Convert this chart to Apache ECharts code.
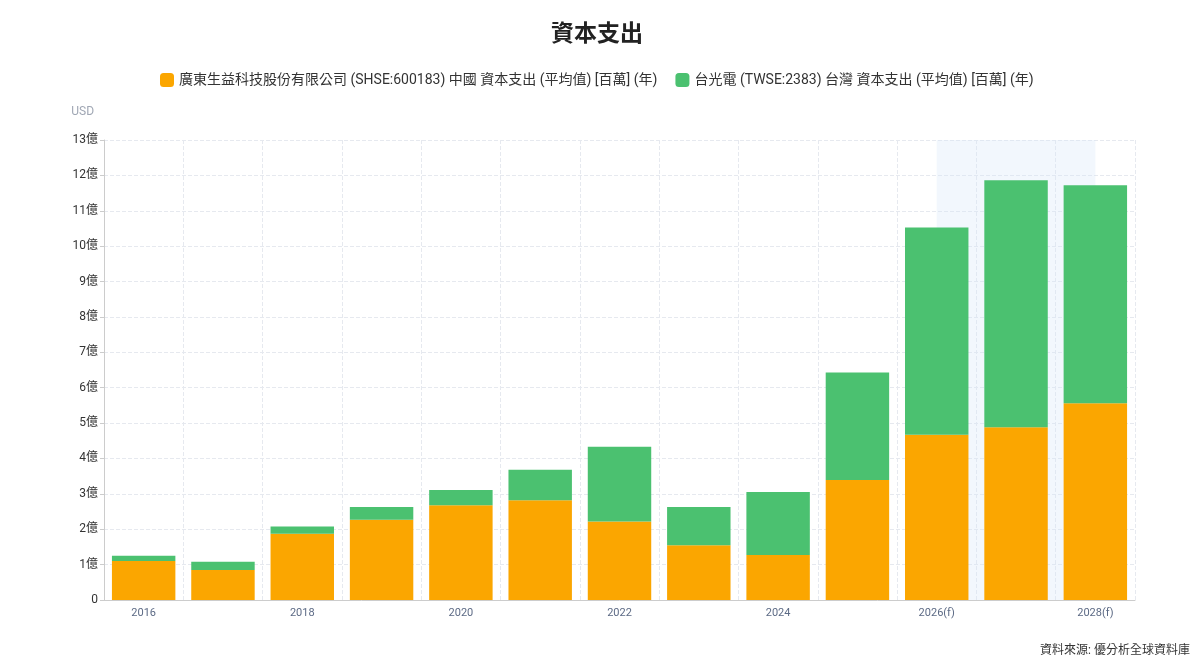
<!DOCTYPE html>
<html>
<head>
  <meta charset="utf-8">
  <title>資本支出</title>
  <script src="https://cdn.jsdelivr.net/npm/echarts@6/dist/echarts.min.js"></script>
  <style type="text/css">
    html,
    body {
      margin: 0;
      background-color: #fff;
    }

    #main {
      width: 1200px;
      height: 671px;
    }
  </style>
</head>
<body>
  <div id="main"></div>
  <script type="text/javascript">
    // 數值單位: 百萬 USD
    var years = ['2016', '2017', '2018', '2019', '2020', '2021', '2022', '2023', '2024', '2025', '2026(f)', '2027(f)', '2028(f)'];
    var gdsyValues = [110, 85, 187, 227, 268, 282, 222, 155, 127, 339, 467, 488, 556];
    var tgdValues = [15, 23, 21, 36, 43, 86, 211, 108, 178, 304, 586, 698, 616];
    var seriesNames = [
      '廣東生益科技股份有限公司 (SHSE:600183) 中國 資本支出 (平均值) [百萬] (年)',
      '台光電 (TWSE:2383) 台灣 資本支出 (平均值) [百萬] (年)'
    ];
    // 預測區間: 2026(f) 到 2028(f) (類別索引)
    var forecastRange = [10, 12];

    var font = 'Roboto, "Noto Sans CJK TC", sans-serif';
    var myChart = echarts.init(document.getElementById('main'));

    var option = {
      textStyle: { fontFamily: font },
      title: {
        text: '資本支出',
        left: 546,
        top: 19,
        textStyle: { fontSize: 23, fontWeight: 'bold', color: '#222', fontFamily: font }
      },
      legend: {
        top: 68,
        left: 155,
        itemWidth: 14,
        itemHeight: 14,
        itemGap: 18,
        icon: 'roundRect',
        textStyle: { fontSize: 14, color: '#333', fontFamily: font },
        data: seriesNames
      },
      grid: {
        left: 104,
        right: 65,
        top: 140,
        bottom: 71
      },
      graphic: [{
        type: 'text',
        right: 10,
        bottom: 14,
        style: { text: '資料來源: 優分析全球資料庫', fontSize: 12, fill: '#333', fontFamily: font }
      }],
      xAxis: [{
        type: 'category',
        data: years,
        axisLine: { lineStyle: { color: '#ccc' } },
        axisTick: { interval: 0, lineStyle: { color: '#ccc' } },
        axisLabel: { interval: 1, color: '#5c6a85', fontSize: 11, margin: 8 },
        splitLine: { show: true, interval: 0, lineStyle: { color: '#e6e9ef', type: 'dashed' } }
      }, {
        // 隱藏數值軸, 只用來放預測區間的底色
        type: 'value',
        show: false,
        min: -0.5,
        max: years.length - 0.5
      }],
      yAxis: {
        type: 'value',
        name: 'USD',
        nameLocation: 'end',
        nameGap: 22,
        nameTextStyle: { color: '#a0a7b4', fontSize: 12, align: 'right', padding: [0, 10, 0, 0] },
        min: 0,
        max: 1300,
        interval: 100,
        axisLine: { show: true, onZero: false, lineStyle: { color: '#ccc' } },
        axisTick: { show: true, length: 4, lineStyle: { color: '#ccc' } },
        axisLabel: {
          color: '#333',
          fontSize: 12,
          margin: 6,
          formatter: function (v) {
            return v === 0 ? '0' : (v / 100) + '億';
          }
        },
        splitLine: { show: true, lineStyle: { color: '#e6e9ef', type: 'dashed' } }
      },
      series: [{
        name: 'forecast',
        type: 'line',
        xAxisIndex: 1,
        data: [[forecastRange[0], 0]],
        symbol: 'none',
        silent: true,
        z: 0,
        lineStyle: { opacity: 0 },
        markArea: {
          silent: true,
          itemStyle: { color: 'rgba(215, 230, 248, 0.32)' },
          data: [[{ xAxis: forecastRange[0] }, { xAxis: forecastRange[1] }]]
        }
      }, {
        name: seriesNames[0],
        type: 'bar',
        stack: 'capex',
        barCategoryGap: '20%',
        itemStyle: { color: '#fba600' },
        data: gdsyValues
      }, {
        name: seriesNames[1],
        type: 'bar',
        stack: 'capex',
        barCategoryGap: '20%',
        itemStyle: { color: '#4bc170' },
        data: tgdValues
      }]
    };

    myChart.setOption(option);
  </script>
</body>
</html>
